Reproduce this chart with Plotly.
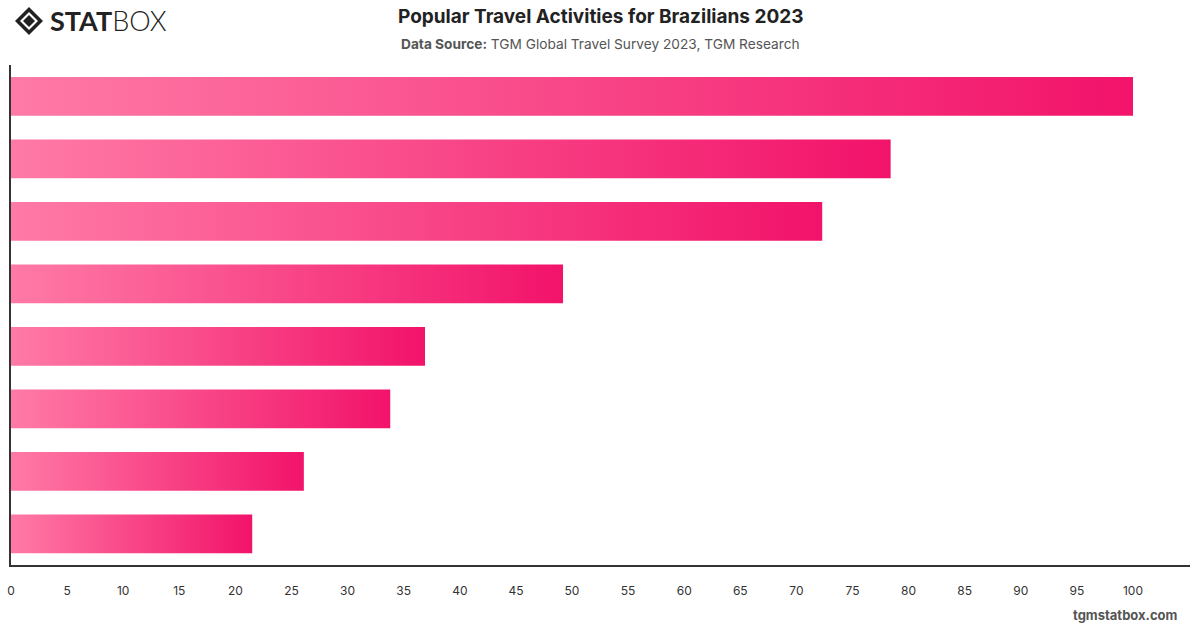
import plotly.graph_objects as go

# ---- data ----
activities = [
    "Beach holidays",
    "City sightseeing",
    "Nature & outdoor",
    "Cultural visits",
    "Shopping",
    "Food & gastronomy",
    "Adventure sports",
    "Wellness & spa",
]
values = [100, 78.4, 72.3, 49.2, 36.9, 33.8, 26.1, 21.5]
tick_vals = list(range(0, 101, 5))

color_start = "#FF7AA6"
color_end = "#F2136A"
bar_width = 0.62

fig = go.Figure()
for i, (name, v) in enumerate(zip(activities, values)):
    y0, y1 = i - bar_width / 2, i + bar_width / 2
    fig.add_trace(go.Scatter(
        x=[0, v, v, 0, 0],
        y=[y0, y0, y1, y1, y0],
        mode="lines",
        line=dict(width=0),
        fill="toself",
        fillgradient=dict(type="horizontal", colorscale=[[0, color_start], [1, color_end]],
                          start=0, stop=v),
        name=name,
        hoverinfo="text",
        text=f"{name}: {v}",
        showlegend=False,
    ))

L, R, T, B = 11, 10, 65, 63
fig.update_layout(
    width=1200, height=628,
    margin=dict(l=L, r=R, t=T, b=B),
    paper_bgcolor="white", plot_bgcolor="white",
    font=dict(family="Inter, Roboto, sans-serif", color="#333"),
    xaxis=dict(
        range=[0, 105.08], tickvals=tick_vals, showgrid=False, zeroline=False,
        showline=True, linecolor="#333", linewidth=1.5, automargin=False,
        ticks="", ticklabelstandoff=14, tickfont=dict(size=12, color="#333"),
        fixedrange=True,
    ),
    yaxis=dict(
        range=[len(values) - 0.5, -0.5], showticklabels=False, showgrid=False,
        zeroline=False, showline=True, linecolor="#333", linewidth=1.5, ticks="",
        fixedrange=True, automargin=False,
    ),
)

W, H = 1200.0 - L - R, 628.0 - T - B
def px(x):
    return (x - L) / W
def py(y):
    return (628 - B - y) / H
def poly(pts):
    return "M " + " L ".join(f"{px(a)} {py(b)}" for a, b in pts) + " Z"

# logo icon (diamond)
fig.add_shape(type="path", xref="paper", yref="paper",
              path=poly([(15, 21), (29, 7), (43, 21), (29, 35)]),
              line=dict(width=0), fillcolor="#222")
fig.add_shape(type="path", xref="paper", yref="paper",
              path=poly([(20, 21), (29, 12), (38, 21), (29, 30)]),
              line=dict(width=0), fillcolor="white")
fig.add_shape(type="path", xref="paper", yref="paper",
              path=poly([(23, 21), (29, 15), (35, 21), (29, 27)]),
              line=dict(width=0), fillcolor="#222")

fig.add_annotation(
    xref="paper", yref="paper", x=px(48), y=py(21), xanchor="left", yanchor="middle",
    text="<b>STAT</b><span style='font-weight:300'>BOX</span>",
    showarrow=False, font=dict(size=27, color="#222", family="Lato, Inter, sans-serif"),
)
fig.add_annotation(
    xref="paper", yref="paper", x=px(600), y=py(17), xanchor="center", yanchor="middle",
    text="<b>Popular Travel Activities for Brazilians 2023</b>", showarrow=False,
    font=dict(size=19, color="#222", family="Inter, Roboto, sans-serif"),
)
fig.add_annotation(
    xref="paper", yref="paper", x=px(600), y=py(44), xanchor="center", yanchor="middle",
    text="<b>Data Source:</b> TGM Global Travel Survey 2023, TGM Research", showarrow=False,
    font=dict(size=13.7, color="#555", family="Inter, Roboto, sans-serif"),
)
fig.add_annotation(
    xref="paper", yref="paper", x=px(1180), y=py(615), xanchor="right", yanchor="middle",
    text="<b>tgmstatbox.com</b>", showarrow=False,
    font=dict(size=13, color="#555", family="Inter, Roboto, sans-serif"),
)

fig.write_html("out.html")
